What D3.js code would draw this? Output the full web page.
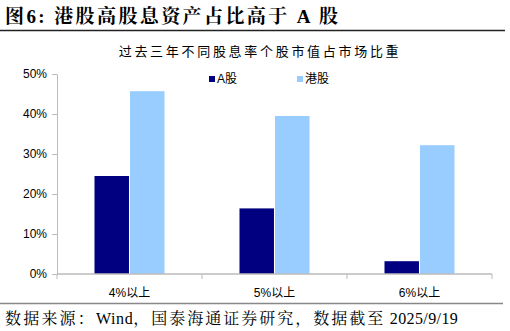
<!DOCTYPE html>
<html>
<head>
<meta charset="utf-8">
<script src="https://cdn.jsdelivr.net/npm/d3@7"></script>
<style>
  body { margin: 0; background: #fff; }
  svg { display: block; }
</style>
</head>
<body>
<div id="chart"></div>
<script>
// data
const categories = ['4%以上', '5%以上', '6%以上'];
const seriesNames = ['A股', '港股'];
const aShares = [24.5, 16.4, 3.2];
const hkShares = [45.7, 39.5, 32.2];
const yTicks = [0, 10, 20, 30, 40, 50];

drawChart();

function drawChart() {
    const width = 510;
    const height = 331;
    const plot = { left: 57, right: 492, top: 74, bottom: 274 };

    const svg = d3.select('#chart')
        .append('svg')
        .attr('width', width)
        .attr('height', height);

    const serif = '"Liberation Serif", "Noto Serif CJK SC", "Noto Sans CJK SC", serif';
    const sans = '"Liberation Sans", Arial, "Noto Sans CJK SC", sans-serif';

    // header
    svg.append('text')
        .attr('x', 5).attr('y', 23)
        .attr('font-family', serif)
        .attr('font-weight', 'bold')
        .attr('font-size', 19)
        .attr('letter-spacing', 2.4)
        .attr('fill', '#000')
        .text('图6:  港股高股息资产占比高于 A 股');

    svg.append('line')
        .attr('x1', 0).attr('x2', 505)
        .attr('y1', 30.5).attr('y2', 30.5)
        .attr('stroke', '#222').attr('stroke-width', 1.6);

    svg.append('text')
        .attr('x', 260).attr('y', 56)
        .attr('text-anchor', 'middle')
        .attr('font-family', '"Noto Sans CJK SC", sans-serif')
        .attr('font-size', 13)
        .attr('letter-spacing', 2.7)
        .attr('fill', '#000')
        .text('过去三年不同股息率个股市值占市场比重');

    const x0 = d3.scaleBand()
        .domain(categories)
        .range([plot.left, plot.right]);

    const x1 = d3.scaleBand()
        .domain(seriesNames)
        .range([0, 70])
        .paddingInner(0.03);

    const y = d3.scaleLinear()
        .domain([0, 50])
        .range([plot.bottom, plot.top]);

    const color = d3.scaleOrdinal()
        .domain(seriesNames)
        .range(['#000080', '#99ccff']);

    const rows = categories.map(function(c, i) {
        return { cat: c, values: [
            { key: 'A股', value: aShares[i] },
            { key: '港股', value: hkShares[i] }
        ] };
    });

    // bars
    const groups = svg.append('g').selectAll('g.group')
        .data(rows)
        .join('g')
        .attr('class', 'group')
        .attr('transform', function(d) {
            return 'translate(' + (x0(d.cat) + x0.bandwidth() / 2 - 35) + ',0)';
        });

    groups.selectAll('rect')
        .data(function(d) { return d.values; })
        .join('rect')
        .attr('x', function(d) { return x1(d.key); })
        .attr('width', x1.bandwidth())
        .attr('y', function(d) { return y(d.value); })
        .attr('height', function(d) { return plot.bottom - y(d.value); })
        .attr('fill', function(d) { return color(d.key); });

    // y axis
    const yAxis = svg.append('g')
        .attr('transform', 'translate(' + plot.left + ',0)')
        .call(d3.axisLeft(y).tickValues(yTicks).tickSize(5).tickSizeOuter(0)
            .tickFormat(function(d) { return d + '%'; }));
    yAxis.select('.domain').attr('stroke', '#bbb');
    yAxis.selectAll('.tick line').attr('stroke', '#bbb');
    yAxis.selectAll('.tick text')
        .attr('font-family', sans)
        .attr('font-size', 12)
        .attr('fill', '#000')
        .attr('x', -10);

    // x axis with tick marks between categories
    const xAxis = svg.append('g')
        .attr('transform', 'translate(0,' + plot.bottom + ')');
    xAxis.append('line')
        .attr('x1', plot.left).attr('x2', plot.right)
        .attr('stroke', '#bbb').attr('stroke-width', 1.5);
    const bounds = categories.map(function(c) { return x0(c); }).concat([plot.right]);
    xAxis.selectAll('line.sep')
        .data(bounds)
        .join('line')
        .attr('class', 'sep')
        .attr('x1', function(d) { return d; }).attr('x2', function(d) { return d; })
        .attr('y1', 0).attr('y2', 5)
        .attr('stroke', '#bbb');
    xAxis.selectAll('text')
        .data(categories)
        .join('text')
        .attr('x', function(d) { return x0(d) + x0.bandwidth() / 2; })
        .attr('y', 23)
        .attr('text-anchor', 'middle')
        .attr('font-family', sans)
        .attr('font-size', 12)
        .attr('fill', '#000')
        .text(function(d) { return d; });

    // legend
    const legendX = [209, 297];
    const legend = svg.append('g').selectAll('g')
        .data(seriesNames)
        .join('g')
        .attr('transform', function(d, i) { return 'translate(' + legendX[i] + ',76)'; });
    legend.append('rect')
        .attr('width', 6).attr('height', 6)
        .attr('fill', function(d) { return color(d); });
    legend.append('text')
        .attr('x', 8).attr('y', 7)
        .attr('font-family', sans)
        .attr('font-size', 12)
        .attr('fill', '#000')
        .text(function(d) { return d; });

    // footer
    svg.append('line')
        .attr('x1', 0).attr('x2', 503)
        .attr('y1', 303.5).attr('y2', 303.5)
        .attr('stroke', '#888').attr('stroke-width', 1.5);

    // CJK parts spaced out, latin parts tight
    const footParts = [
        ['数据来源：', 2.2], ['Wind', 0.6], ['，国泰海通证券研究，数据截至', 2], [' 2025/9/19', 0.4]
    ];
    svg.append('text')
        .attr('x', 5).attr('y', 324)
        .attr('font-family', serif)
        .attr('font-size', 16)
        .attr('fill', '#000')
        .selectAll('tspan')
        .data(footParts)
        .join('tspan')
        .attr('letter-spacing', function(d) { return d[1]; })
        .text(function(d) { return d[0]; });
}
</script>
</body>
</html>
